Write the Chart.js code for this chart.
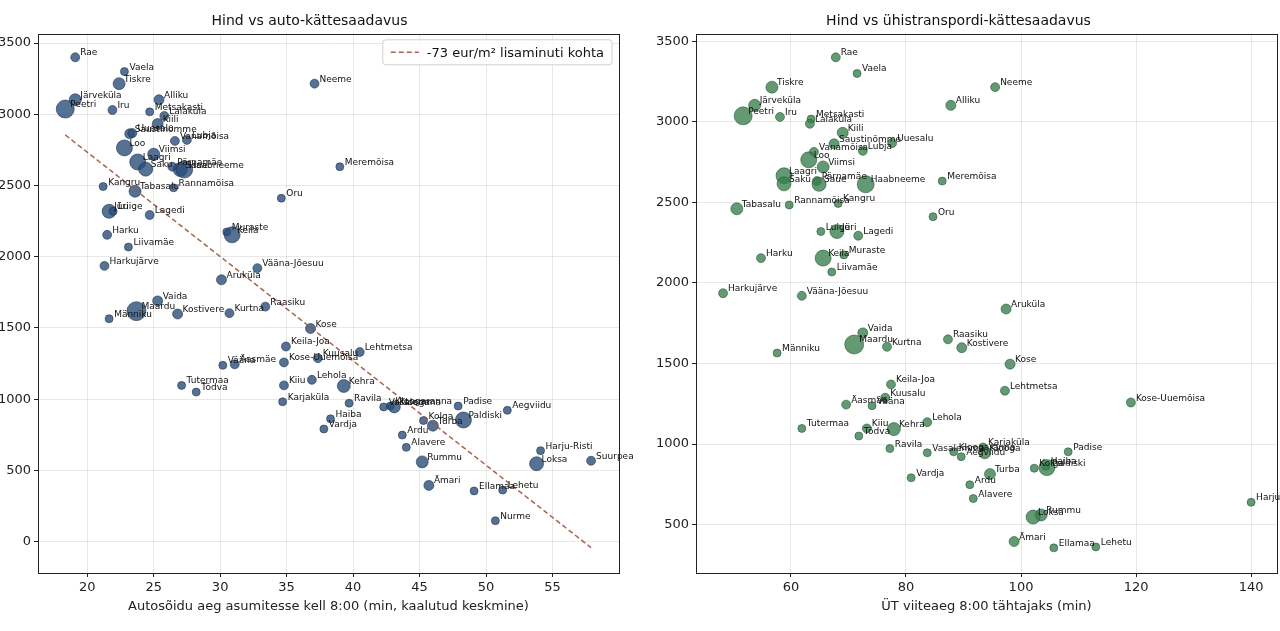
<!DOCTYPE html>
<html>
<head>
<meta charset="utf-8">
<script src="https://cdn.jsdelivr.net/npm/chart.js@4.4.0/dist/chart.umd.min.js"></script>
<style>
  html, body { margin: 0; padding: 0; background: #fff; }
  #wrap { position: relative; width: 1280px; height: 631px; overflow: hidden; }
  .box { position: absolute; top: 0; width: 640px; height: 631px; }
</style>
</head>
<body>
<div id="wrap">
  <div class="box" style="left:0"><canvas id="carChart" width="640" height="631"></canvas></div>
  <div class="box" style="left:640px"><canvas id="ptChart" width="640" height="631"></canvas></div>
</div>
<script>
// asumid
const names = ['Rae','Vaela','Tiskre','Järveküla','Peetri','Iru','Alliku','Metsakasti','Laiaküla','Kiili',
  'Saustinõmme','Uuesalu','Vanamõisa','Lubja','Loo','Viimsi','Laagri','Saku','Pärnamäe','Saue',
  'Haabneeme','Kangru','Tabasalu','Rannamõisa','Oru','Neeme','Meremõisa','Jüri','Luige','Lagedi',
  'Muraste','Keila','Harku','Liivamäe','Harkujärve','Vääna-Jõesuu','Aruküla','Vaida','Maardu','Kostivere',
  'Männiku','Kurtna','Raasiku','Kose','Keila-Joa','Lehtmetsa','Kuusalu','Kose-Uuemõisa','Äasmäe','Vääna',
  'Lehola','Kiiu','Kehra','Tutermaa','Tõdva','Karjaküla','Ravila','Vasalemma','Kloogaranna','Klooga',
  'Padise','Aegviidu','Haiba','Vardja','Kolga','Paldiski','Turba','Ardu','Alavere','Rummu',
  'Loksa','Harju-Risti','Suurpea','Ämari','Ellamaa','Lehetu','Nurme'];

// hind eur/m2
const price = [3400,3300,3215,3102,3037,3030,3102,3017,2988,2932,
  2863,2868,2813,2820,2764,2720,2665,2615,2632,2612,
  2612,2493,2460,2484,2411,3215,2632,2319,2319,2293,
  2174,2154,2154,2068,1936,1920,1838,1690,1618,1598,
  1565,1604,1650,1496,1370,1331,1288,1258,1245,1238,
  1136,1097,1093,1097,1050,982,972,946,952,946,
  952,922,862,791,850,854,814,748,662,560,
  547,639,568,395,356,362,147];

// autosõidu aeg (min)
const carMin = [19.1,22.8,22.4,19.1,18.35,21.9,25.4,24.7,25.8,25.3,
  23.2,23.4,26.6,27.5,22.8,25.0,23.8,24.4,26.4,27.0,
  27.3,21.2,23.6,26.5,34.6,37.1,39.0,21.65,21.95,24.7,
  30.5,30.9,21.5,23.1,21.3,32.8,30.1,25.3,23.7,26.8,
  21.65,30.7,33.4,36.8,34.95,40.5,37.35,34.8,31.1,30.2,
  36.9,34.8,39.3,27.1,28.2,34.7,39.7,42.3,42.8,43.1,
  47.9,51.6,38.3,37.8,45.3,48.3,46.0,43.7,44.0,45.2,
  53.8,54.1,57.9,45.7,49.1,51.25,50.7];

// ühistranspordi viiteaeg (min), null = puudub
const ptMin = [67.8,71.5,56.7,53.7,51.7,58.1,87.8,63.5,63.3,69.0,
  67.5,77.6,64.0,72.5,63.1,65.6,58.8,58.8,64.5,64.9,
  73.0,68.2,50.6,59.7,84.7,95.5,86.3,68.0,65.2,71.7,
  69.2,65.6,54.8,67.1,48.2,61.9,97.4,72.5,71.0,89.7,
  57.6,76.7,87.3,98.1,77.4,97.2,76.4,119.1,69.6,74.1,
  83.7,73.2,77.9,61.9,71.8,93.4,77.2,83.7,88.3,93.7,
  108.2,89.6,104.3,80.9,102.3,104.5,94.6,91.1,91.7,103.5,
  102.1,140.0,null,98.8,105.7,113.0,null];

// tehingute arv (mulli suurus)
const deals = [20,16,36,36,81,20,25,16,20,30,
  25,20,20,20,64,36,64,49,20,49,
  72,16,36,16,16,20,16,49,16,20,
  16,64,20,16,20,20,25,25,90,25,
  16,20,20,25,20,20,20,20,20,16,
  20,20,42,16,16,16,16,16,16,36,
  16,16,16,16,16,64,30,16,16,36,
  49,16,20,25,16,16,16];

// trendijoon (otspunktid)
const trendX = [18.35, 57.9];
const trendY = [2855, -42];
const trendLabel = '-73 eur/m² lisaminuti kohta';

const carTicksX = [20, 25, 30, 35, 40, 45, 50, 55];
const ptTicksX = [60, 80, 100, 120, 140];

const FONT = "'DejaVu Sans', sans-serif";
Chart.defaults.font.family = FONT;
Chart.defaults.color = '#222';

const labelPlugin = {
  id: 'pointLabels',
  afterDatasetsDraw(chart) {
    const ctx = chart.ctx;
    chart.data.datasets.forEach((ds, di) => {
      if (!ds.isScatter) return;
      const meta = chart.getDatasetMeta(di);
      ctx.save();
      ctx.font = '9px ' + FONT;
      ctx.fillStyle = '#111';
      ctx.textBaseline = 'alphabetic';
      meta.data.forEach((el, i) => {
        ctx.fillText(ds.data[i].name, el.x + 5, el.y - 2);
      });
      ctx.restore();
    });
  }
};

const framePlugin = {
  id: 'frame',
  afterDraw(chart) {
    const a = chart.chartArea;
    const ctx = chart.ctx;
    ctx.save();
    ctx.strokeStyle = '#222';
    ctx.lineWidth = 1;
    ctx.strokeRect(Math.round(a.left) + 0.5, Math.round(a.top) + 0.5,
      Math.round(a.right - a.left), Math.round(a.bottom - a.top));
    // legend box
    const lg = chart.options.plugins.boxLegend;
    if (lg && lg.text) {
      ctx.font = '13px ' + FONT;
      const tw = ctx.measureText(lg.text).width;
      const w = tw + 52, h = 25;
      const x = a.right - 7 - w, y = a.top + 6;
      ctx.fillStyle = 'rgba(255,255,255,0.85)';
      ctx.strokeStyle = '#d0d0d0';
      ctx.beginPath();
      ctx.roundRect(x, y, w, h, 3);
      ctx.fill();
      ctx.stroke();
      ctx.strokeStyle = lg.color;
      ctx.lineWidth = 1.5;
      ctx.setLineDash([5, 3]);
      ctx.beginPath();
      ctx.moveTo(x + 8, y + h / 2);
      ctx.lineTo(x + 36, y + h / 2);
      ctx.stroke();
      ctx.setLineDash([]);
      ctx.fillStyle = '#111';
      ctx.textBaseline = 'middle';
      ctx.fillText(lg.text, x + 44, y + h / 2 + 1);
    }
    ctx.restore();
  }
};

function axisX(min, max, ticks, title) {
  return {
    type: 'linear', min: min, max: max,
    afterBuildTicks: s => { s.ticks = ticks.map(v => ({ value: v })); },
    afterFit: s => { s.height = 58; s.paddingLeft = 0; s.paddingRight = 0; },
    grid: { color: 'rgba(0,0,0,0.09)', tickColor: '#222', tickLength: 4 },
    border: { display: false },
    ticks: { font: { size: 13 }, color: '#222', padding: 3, maxRotation: 0, callback: v => String(v) },
    title: { display: true, text: title, font: { size: 13 }, color: '#222', padding: { top: 4, bottom: 17 } }
  };
}

function axisY(min, max, ticks, width) {
  return {
    type: 'linear', min: min, max: max,
    afterBuildTicks: s => { s.ticks = ticks.map(v => ({ value: v })); },
    afterFit: s => { s.width = width; s.paddingTop = 0; s.paddingBottom = 0; },
    grid: { color: 'rgba(0,0,0,0.09)', tickColor: '#222', tickLength: 4 },
    border: { display: false },
    ticks: { font: { size: 13 }, color: '#222', padding: 3, callback: v => String(v) }
  };
}

function titleOpts(text) {
  return { display: true, text: text, font: { size: 14, weight: 'normal' }, color: '#111',
    padding: { top: 13, bottom: 4 } };
}

// auto graafik
const carPts = names.map((n, i) => ({ x: carMin[i], y: price[i], name: n }));
const carRad = deals.map(d => Math.sqrt(d));

new Chart(document.getElementById('carChart'), {
  type: 'scatter',
  data: {
    datasets: [
      {
        label: trendLabel,
        type: 'line',
        data: trendX.map((x, i) => ({ x: x, y: trendY[i] })),
        borderColor: 'rgba(160,82,60,0.9)',
        borderWidth: 1.5,
        borderDash: [5, 3],
        pointRadius: 0,
        fill: false,
        order: 0
      },
      {
        label: 'asumid',
        isScatter: true,
        data: carPts,
        pointRadius: carRad,
        backgroundColor: 'rgba(42,78,120,0.8)',
        borderColor: 'rgba(25,45,75,0.7)',
        borderWidth: 0.8,
        order: 1
      }
    ]
  },
  options: {
    responsive: false,
    animation: false,
    events: [],
    layout: { autoPadding: false, padding: { left: 0, right: 21, top: 0, bottom: 0 } },
    plugins: {
      legend: { display: false },
      tooltip: { enabled: false },
      title: titleOpts('Hind vs auto-kättesaadavus'),
      boxLegend: { text: trendLabel, color: 'rgba(160,82,60,0.9)' }
    },
    scales: {
      x: axisX(16.3, 60, carTicksX, 'Autosõidu aeg asumitesse kell 8:00 (min, kaalutud keskmine)'),
      y: axisY(-220, 3565, [0, 500, 1000, 1500, 2000, 2500, 3000, 3500], 38)
    }
  },
  plugins: [labelPlugin, framePlugin]
});

// ühistranspordi graafik
const ptPts = [];
const ptRad = [];
names.forEach((n, i) => {
  if (ptMin[i] === null) return;
  ptPts.push({ x: ptMin[i], y: price[i], name: n });
  ptRad.push(Math.sqrt(deals[i]));
});

new Chart(document.getElementById('ptChart'), {
  type: 'scatter',
  data: {
    datasets: [{
      label: 'asumid',
      isScatter: true,
      data: ptPts,
      pointRadius: ptRad,
      backgroundColor: 'rgba(55,125,75,0.78)',
      borderColor: 'rgba(30,80,45,0.7)',
      borderWidth: 0.8
    }]
  },
  options: {
    responsive: false,
    animation: false,
    events: [],
    layout: { autoPadding: false, padding: { left: 0, right: 3, top: 0, bottom: 0 } },
    plugins: {
      legend: { display: false },
      tooltip: { enabled: false },
      title: titleOpts('Hind vs ühistranspordi-kättesaadavus')
    },
    scales: {
      x: axisX(43.5, 144.5, ptTicksX, 'ÜT viiteaeg 8:00 tähtajaks (min)'),
      y: axisY(200, 3546, [500, 1000, 1500, 2000, 2500, 3000, 3500], 56)
    }
  },
  plugins: [labelPlugin, framePlugin]
});
</script>
</body>
</html>
